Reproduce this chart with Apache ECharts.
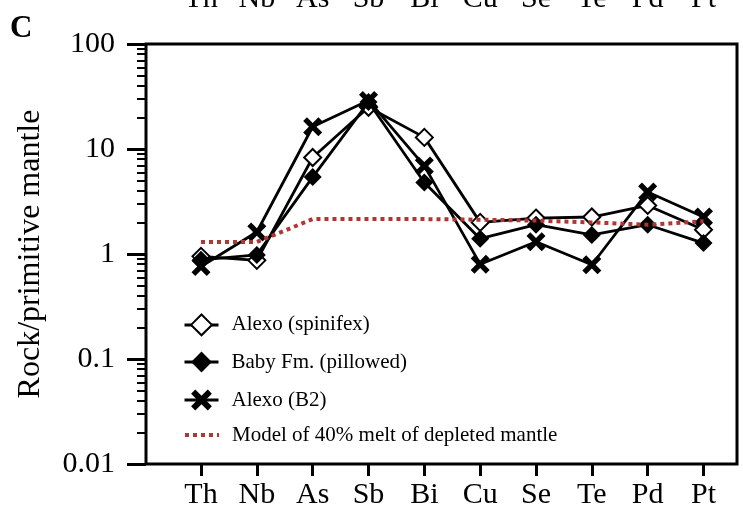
<!DOCTYPE html>
<html><head><meta charset="utf-8">
<script src="https://cdn.jsdelivr.net/npm/echarts@6/dist/echarts.min.js"></script>
<style>html,body{margin:0;padding:0;background:#fff}#c{width:743px;height:517px}</style>
</head><body><div id="c"></div>
<script>
const categories = ['Th','Nb','As','Sb','Bi','Cu','Se','Te','Pd','Pt'];
const alexoSpinifex = [0.95, 0.87, 8.3, 25, 12.9, 2.0, 2.2, 2.25, 2.9, 1.7];
const babyPillowed  = [0.88, 0.98, 5.4, 28, 4.8, 1.4, 1.9, 1.52, 1.9, 1.27];
const alexoB2       = [0.76, 1.62, 16.3, 29, 6.9, 0.80, 1.31, 0.79, 3.9, 2.25];
const meltModel     = [1.3, 1.3, 2.15, 2.15, 2.15, 2.12, 2.08, 2.0, 1.9, 2.05];
const yTickValues = [0.01, 0.1, 1, 10, 100];
const yTickLabels = ['0.01','0.1','1','10','100'];
const seriesNames = ['Alexo (spinifex)','Baby Fm. (pillowed)','Alexo (B2)','Model of 40% melt of depleted mantle'];
const panelLabel = 'C';
const yAxisName = 'Rock/primitive mantle';

const FONT = 'Liberation Serif';
const minorTickExponents = [];
for (let d = -2; d < 2; d++) for (let k = 2; k <= 9; k++) minorTickExponents.push(d + Math.log10(k));

const xMark = 'path://M0 20L20 0L50 30L80 0L100 20L70 50L100 80L80 100L50 70L20 100L0 80L30 50Z';

function yLabel(v) {
  for (let i = 0; i < yTickValues.length; i++) {
    if (Math.abs(Math.log10(v) - Math.log10(yTickValues[i])) < 1e-6) return yTickLabels[i];
  }
  return '';
}

const legendTops = [313.5, 351.5, 389.5, 424.5];
const legendExtra = [
  {lineStyle: {width: 3}},
  {lineStyle: {width: 3}},
  {lineStyle: {width: 3}},
  {itemStyle: {opacity: 0}, lineStyle: {width: 4, type: [4, 4]}}
];
const legends = seriesNames.map((n, i) => ({
  orient: 'vertical', left: 183, top: legendTops[i], padding: 0, itemWidth: 34, itemHeight: 26,
  data: [Object.assign({name: n}, legendExtra[i])],
  textStyle: {fontFamily: FONT, fontSize: 21, color: '#000', padding: [0, 0, 0, 8]}
}));

const chart = echarts.init(document.getElementById('c'), null, {renderer: 'canvas'});
chart.setOption({
  animation: false,
  backgroundColor: '#fff',
  title: {text: panelLabel, left: 5, top: 8, textStyle: {fontFamily: FONT, fontSize: 31, fontWeight: 'bold', color: '#000'}},
  grid: [
    {left: 146, right: 6, top: 44, bottom: 53, outerBoundsMode: 'none', containLabel: false,
     show: true, borderColor: '#000', borderWidth: 3, backgroundColor: 'transparent'},
    {left: 201, right: 39.5, top: 44, bottom: 53, outerBoundsMode: 'none', containLabel: false}
  ],
  xAxis: [
    {type: 'value', gridIndex: 0, show: false},
    {type: 'category', gridIndex: 1, data: categories, boundaryGap: false, position: 'bottom',
     axisLine: {show: false},
     axisTick: {show: true, length: 12, lineStyle: {color: '#000', width: 3}},
     axisLabel: {fontFamily: FONT, fontSize: 30, color: '#000', margin: 16},
     splitLine: {show: false}},
    {type: 'category', gridIndex: 1, data: categories, boundaryGap: false, position: 'top', offset: 22,
     axisLine: {show: false}, axisTick: {show: false},
     axisLabel: {fontFamily: FONT, fontSize: 30, color: '#000', margin: 8},
     splitLine: {show: false}}
  ],
  yAxis: [
    {type: 'log', gridIndex: 0, min: 0.01, max: 100, logBase: 10, splitNumber: 4,
     axisLine: {show: false},
     axisTick: {show: true, length: 19, lineStyle: {color: '#000', width: 3}},
     axisLabel: {fontFamily: FONT, fontSize: 30, color: '#000', margin: 31, formatter: yLabel},
     splitLine: {show: false},
     name: yAxisName, nameLocation: 'middle', nameGap: 99, nameRotate: 90,
     nameTextStyle: {fontFamily: FONT, fontSize: 32, color: '#000'}},
    {type: 'value', gridIndex: 0, min: -2, max: 2, position: 'left',
     axisLine: {show: false},
     axisTick: {show: true, length: 9, customValues: minorTickExponents, lineStyle: {color: '#000', width: 2}},
     axisLabel: {show: false}, splitLine: {show: false}},
    {type: 'log', gridIndex: 1, min: 0.01, max: 100, logBase: 10, show: false, splitLine: {show: false}}
  ],
  legend: legends,
  series: [
    {name: seriesNames[0], type: 'line', xAxisIndex: 1, yAxisIndex: 2, data: alexoSpinifex,
     symbol: 'diamond', symbolSize: 17, lineStyle: {color: '#000', width: 2.8},
     itemStyle: {color: '#fff', borderColor: '#000', borderWidth: 2}, z: 3},
    {name: seriesNames[1], type: 'line', xAxisIndex: 1, yAxisIndex: 2, data: babyPillowed,
     symbol: 'diamond', symbolSize: 18, lineStyle: {color: '#000', width: 2.8},
     itemStyle: {color: '#000'}, z: 4},
    {name: seriesNames[2], type: 'line', xAxisIndex: 1, yAxisIndex: 2, data: alexoB2,
     symbol: xMark, symbolSize: 19, lineStyle: {color: '#000', width: 2.8},
     itemStyle: {color: '#000'}, z: 5},
    {name: seriesNames[3], type: 'line', xAxisIndex: 1, yAxisIndex: 2, data: meltModel,
     symbol: 'none', lineStyle: {color: '#b03535', width: 4, type: [4, 4]},
     itemStyle: {color: '#b03535'}, z: 6}
  ]
});
</script>
</body></html>
